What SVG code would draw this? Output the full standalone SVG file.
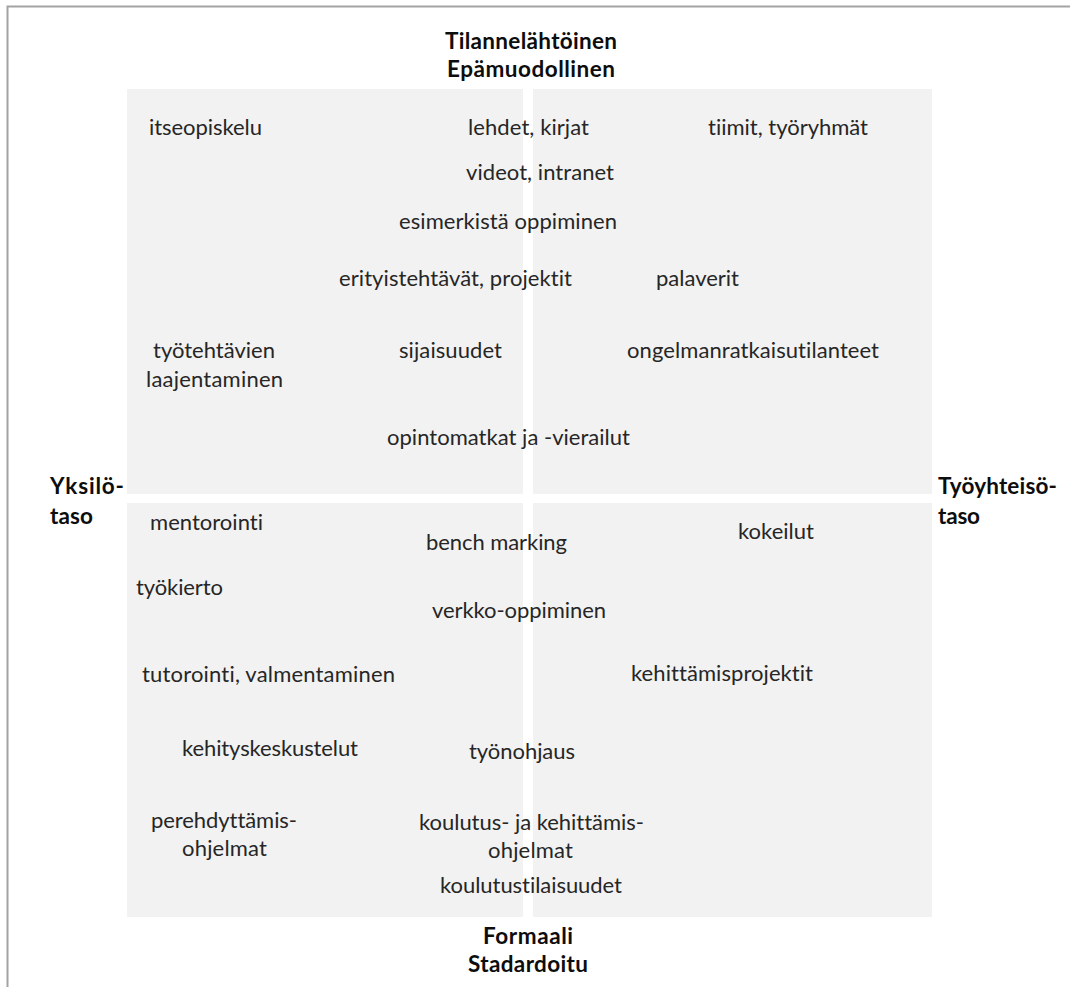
<svg xmlns="http://www.w3.org/2000/svg" width="1070" height="987" viewBox="0 0 1070 987">
<style>
.q{fill:#f2f2f2}
.t{font-family:Lato,"Open Sans",sans-serif;font-size:22px;fill:#262626;font-variant-ligatures:none}
.h{font-family:Lato,"Open Sans",sans-serif;font-size:22.5px;font-weight:bold;fill:#0d0d0d;font-variant-ligatures:none}
.frame{fill:none;stroke:#a3a3a3;stroke-width:2}
</style>
<rect width="1070" height="987" fill="#ffffff"/>
<path class="frame" d="M7.5,987 V6.5 H1070"/>
<g id="quadrants">
<rect id="q-tl" class="q" x="127" y="89" width="396" height="405"/>
<rect id="q-tr" class="q" x="533" y="89" width="399" height="405"/>
<rect id="q-bl" class="q" x="127" y="503" width="396" height="414"/>
<rect id="q-br" class="q" x="533" y="503" width="399" height="414"/>
</g>
<g id="axis-top"><text class="h" x="445" y="49" textLength="172">Tilannelähtöinen</text><text class="h" x="447" y="77" textLength="168">Epämuodollinen</text></g>
<g id="axis-bottom"><text class="h" x="483" y="944" textLength="90">Formaali</text><text class="h" x="468" y="972" textLength="120">Stadardoitu</text></g>
<g id="axis-left"><text class="h" x="50" y="494" textLength="74">Yksilö-</text><text class="h" x="50" y="524" textLength="43">taso</text></g>
<g id="axis-right"><text class="h" x="938" y="494" textLength="119">Työyhteisö-</text><text class="h" x="938" y="524" textLength="42">taso</text></g>
<g id="n-itseopiskelu"><text class="t" x="149" y="135" textLength="113">itseopiskelu</text></g>
<g id="n-lehdet"><text class="t" x="468" y="135" textLength="121">lehdet, kirjat</text></g>
<g id="n-tiimit"><text class="t" x="708" y="135" textLength="160">tiimit, työryhmät</text></g>
<g id="n-videot"><text class="t" x="466" y="180" textLength="148">videot, intranet</text></g>
<g id="n-esimerkista"><text class="t" x="399" y="229" textLength="218">esimerkistä oppiminen</text></g>
<g id="n-erityistehtavat"><text class="t" x="339" y="286" textLength="233">erityistehtävät, projektit</text></g>
<g id="n-palaverit"><text class="t" x="656" y="286" textLength="83">palaverit</text></g>
<g id="n-tyotehtavien"><text class="t" x="153" y="358" textLength="122">työtehtävien</text><text class="t" x="146" y="387" textLength="137">laajentaminen</text></g>
<g id="n-sijaisuudet"><text class="t" x="399" y="358" textLength="103">sijaisuudet</text></g>
<g id="n-ongelmanratkaisu"><text class="t" x="627" y="358" textLength="252">ongelmanratkaisutilanteet</text></g>
<g id="n-opintomatkat"><text class="t" x="387" y="445" textLength="243">opintomatkat ja -vierailut</text></g>
<g id="n-mentorointi"><text class="t" x="150" y="530" textLength="113">mentorointi</text></g>
<g id="n-benchmarking"><text class="t" x="426" y="550" textLength="141">bench marking</text></g>
<g id="n-kokeilut"><text class="t" x="738" y="539" textLength="76">kokeilut</text></g>
<g id="n-tyokierto"><text class="t" x="136" y="595" textLength="87">työkierto</text></g>
<g id="n-verkko"><text class="t" x="432" y="618" textLength="174">verkko-oppiminen</text></g>
<g id="n-tutorointi"><text class="t" x="142" y="682" textLength="253">tutorointi, valmentaminen</text></g>
<g id="n-kehittamisprojektit"><text class="t" x="631" y="681" textLength="182">kehittämisprojektit</text></g>
<g id="n-kehityskeskustelut"><text class="t" x="182" y="756" textLength="176">kehityskeskustelut</text></g>
<g id="n-tyonohjaus"><text class="t" x="469" y="759" textLength="106">työnohjaus</text></g>
<g id="n-perehdyttamis"><text class="t" x="151" y="828" textLength="146">perehdyttämis-</text><text class="t" x="182" y="856" textLength="85">ohjelmat</text></g>
<g id="n-koulutus"><text class="t" x="419" y="830" textLength="225">koulutus- ja kehittämis-</text><text class="t" x="488" y="858" textLength="85">ohjelmat</text></g>
<g id="n-koulutustilaisuudet"><text class="t" x="440" y="893" textLength="182">koulutustilaisuudet</text></g>
</svg>
